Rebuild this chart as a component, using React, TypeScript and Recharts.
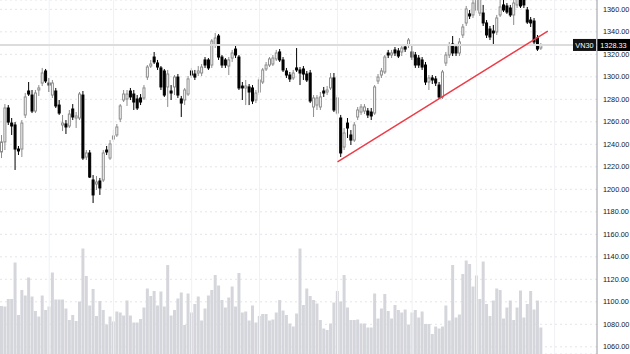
import { ComposedChart, Bar, Line, XAxis, YAxis, CartesianGrid, ReferenceLine } from 'recharts';

// VN30 daily OHLC
const opens = [1233.2,1242.1,1272.3,1258.9,1257.2,1235.8,1235.8,1266.1,1287.4,1283.8,1269.6,1288.3,1294.5,1305.2,1294.5,1283.8,1287.4,1274.9,1257.2,1258.1,1256.3,1271.4,1263.4,1263.4,1283.8,1228.7,1232.3,1208.3,1204.7,1207.4,1208.3,1234.9,1227.8,1244.7,1248.3,1262.5,1279.4,1280.3,1287.4,1284.7,1280.3,1281.2,1281.2,1299.8,1309.6,1317.6,1312.3,1307.9,1305.2,1291.0,1287.4,1291.0,1299.8,1280.3,1279.4,1284.7,1305.2,1302.5,1303.4,1303.4,1315.0,1315.0,1310.5,1328.3,1336.3,1317.6,1315.0,1309.6,1316.7,1324.7,1317.6,1291.8,1290.1,1291.0,1290.1,1279.4,1286.5,1295.4,1307.0,1310.5,1311.4,1315.9,1322.1,1315.0,1305.2,1301.6,1299.0,1307.9,1306.1,1307.0,1302.5,1303.4,1273.2,1274.9,1273.2,1287.4,1286.5,1290.1,1299.0,1267.8,1263.4,1237.6,1258.9,1248.3,1243.8,1264.3,1268.7,1269.6,1269.6,1268.7,1267.8,1296.3,1301.6,1304.3,1321.2,1319.4,1323.9,1323.0,1322.1,1326.5,1328.3,1322.1,1319.4,1316.7,1315.0,1310.5,1295.4,1299.0,1298.1,1292.7,1282.1,1312.3,1319.4,1329.2,1326.5,1321.2,1337.2,1347.9,1355.9,1355.0,1359.4,1356.7,1356.7,1347.9,1342.5,1340.7,1339.9,1355.0,1363.9,1363.0,1361.2,1355.0,1363.9,1370.1,1368.3,1359.4,1350.5,1349.6,1334.5,1325.6];
const highs = [1248.3,1275.8,1274.9,1263.4,1259.8,1238.5,1261.6,1285.6,1295.4,1288.3,1288.3,1292.7,1307.9,1307.0,1299.0,1297.2,1290.1,1279.4,1266.1,1261.6,1270.5,1275.8,1268.7,1286.5,1287.4,1234.9,1234.9,1212.7,1211.8,1210.1,1234.9,1238.5,1243.8,1252.7,1258.1,1275.8,1288.3,1288.3,1290.1,1288.3,1283.8,1284.7,1292.7,1310.5,1315.0,1322.1,1315.0,1309.6,1307.0,1306.1,1292.7,1301.6,1302.5,1283.0,1290.1,1300.7,1307.9,1306.1,1309.6,1311.4,1317.6,1316.7,1333.6,1339.0,1338.1,1319.4,1316.7,1317.6,1323.9,1327.4,1319.4,1295.4,1297.2,1293.6,1292.7,1288.3,1299.8,1307.9,1313.2,1317.6,1319.4,1323.9,1324.7,1317.6,1307.9,1304.3,1306.1,1325.6,1308.7,1309.6,1305.2,1306.1,1283.8,1283.8,1286.5,1291.0,1291.8,1303.4,1303.4,1283.8,1266.1,1254.5,1263.4,1252.7,1259.8,1273.2,1275.8,1275.8,1272.3,1272.3,1292.7,1302.5,1307.9,1319.4,1323.9,1323.9,1326.5,1325.6,1328.3,1329.2,1334.5,1328.3,1322.1,1319.4,1317.6,1313.2,1301.6,1301.6,1300.7,1295.4,1306.1,1322.1,1331.0,1336.3,1329.2,1334.5,1347.0,1363.0,1359.4,1368.3,1377.2,1375.4,1363.9,1350.5,1345.2,1346.1,1355.0,1368.3,1368.3,1365.6,1363.9,1368.3,1375.4,1373.6,1371.0,1362.1,1353.2,1352.3,1337.2,1330.1];
const lows = [1227.8,1234.9,1257.2,1248.3,1217.2,1230.5,1228.7,1263.4,1283.0,1267.8,1267.8,1283.0,1291.8,1294.5,1286.5,1281.2,1272.3,1266.1,1251.8,1249.2,1254.5,1261.6,1254.5,1261.6,1226.1,1226.1,1210.1,1187.8,1199.4,1195.0,1206.5,1230.5,1226.1,1242.1,1246.5,1259.8,1277.6,1274.1,1279.4,1270.5,1270.5,1274.9,1279.4,1297.2,1307.9,1311.4,1306.1,1288.3,1282.1,1273.2,1279.4,1283.8,1281.2,1264.3,1274.9,1283.0,1299.0,1297.2,1300.7,1300.7,1307.9,1306.1,1307.9,1325.6,1315.0,1307.9,1307.9,1301.6,1313.2,1316.7,1288.3,1279.4,1274.9,1274.9,1275.8,1276.7,1283.8,1293.6,1305.2,1308.7,1309.6,1314.1,1313.2,1304.3,1299.0,1295.4,1297.2,1304.3,1292.7,1297.2,1295.4,1276.7,1264.3,1270.5,1270.5,1282.1,1283.8,1288.3,1268.7,1266.1,1228.7,1234.9,1245.6,1239.4,1242.1,1261.6,1266.1,1266.9,1263.4,1261.6,1266.1,1293.6,1299.0,1302.5,1316.7,1316.7,1318.5,1316.7,1318.5,1322.1,1325.6,1315.0,1307.9,1307.9,1306.1,1292.7,1288.3,1293.6,1291.8,1280.3,1280.3,1309.6,1316.7,1318.5,1318.5,1318.5,1334.5,1345.2,1351.4,1352.3,1356.7,1354.1,1345.2,1334.5,1332.7,1329.2,1337.2,1353.2,1357.6,1355.9,1353.2,1346.1,1361.2,1361.2,1361.2,1347.0,1344.3,1328.3,1323.0,1323.9];
const closes = [1242.1,1272.3,1259.8,1256.3,1235.8,1234.1,1258.9,1282.1,1284.7,1269.6,1285.6,1290.1,1303.4,1296.3,1292.7,1294.5,1274.1,1267.8,1258.9,1255.4,1266.9,1264.3,1265.2,1284.7,1227.8,1232.3,1210.9,1195.0,1206.5,1201.2,1232.3,1233.2,1240.3,1247.4,1255.4,1274.1,1284.7,1284.7,1282.1,1277.6,1272.3,1277.6,1290.1,1308.7,1311.4,1313.2,1308.7,1291.0,1283.8,1302.5,1285.6,1299.8,1283.8,1276.7,1288.3,1298.1,1301.6,1299.8,1305.2,1308.7,1310.5,1307.9,1331.8,1334.5,1317.6,1310.5,1310.5,1315.0,1321.2,1319.4,1290.1,1290.1,1291.8,1286.5,1278.5,1285.6,1297.2,1306.1,1310.5,1315.9,1316.7,1321.2,1315.0,1306.1,1301.6,1298.1,1303.4,1306.1,1303.4,1302.5,1297.2,1278.5,1281.2,1281.2,1282.1,1285.6,1288.3,1299.0,1270.5,1281.2,1232.3,1250.1,1254.5,1243.8,1257.2,1270.5,1273.2,1273.2,1266.1,1265.2,1291.0,1299.8,1305.2,1317.6,1319.4,1321.2,1321.2,1318.5,1325.6,1324.7,1332.7,1317.6,1310.5,1310.5,1308.7,1295.4,1299.0,1297.2,1294.5,1282.1,1304.3,1319.4,1328.3,1321.2,1321.2,1331.0,1344.3,1360.3,1354.1,1365.6,1372.7,1373.6,1347.9,1337.2,1335.4,1339.0,1352.3,1362.1,1359.4,1357.6,1355.0,1365.6,1371.0,1363.0,1363.9,1348.7,1347.9,1331.0,1324.7,1328.33];
const volumes = [96,95,110,110,183,78,128,117,153,115,86,75,117,88,95,163,109,109,109,91,68,78,66,105,211,156,97,130,76,106,88,59,75,65,85,83,77,107,77,63,63,70,93,131,116,126,97,125,95,178,77,88,111,123,58,121,83,100,115,67,91,117,128,158,137,108,93,113,135,95,162,83,85,67,97,63,76,80,80,67,69,83,108,87,78,61,55,81,211,98,131,116,108,101,68,51,48,61,103,126,105,158,93,68,68,69,61,61,53,53,121,71,91,120,86,71,98,88,83,89,59,83,88,73,85,60,60,40,55,51,55,97,67,178,73,79,160,187,180,135,157,110,185,100,76,107,131,128,71,93,107,68,93,127,73,100,126,89,107,53];

const slots = 176; // candles plus empty space on the right
const priceTicks = [1060,1080,1100,1120,1140,1160,1180,1200,1220,1240,1260,1280,1300,1320,1340,1360];
const monthStarts = [14, 33, 56, 76, 99, 121, 140, 163];
const trendIdx = [99, 161];
const trendVals = [1224.3, 1340.7];
const lastPrice = 1328.33;

const rows = Array.from({ length: slots }, (_, i) => ({
  i,
  open: opens[i],
  high: highs[i],
  low: lows[i],
  close: closes[i],
  vol: volumes[i],
  trend: trendIdx.includes(i) ? trendVals[trendIdx.indexOf(i)] : undefined,
}));

const Candle = (props: any) => {
  const { x, y, width, height, payload } = props;
  if (payload == null || payload.open == null) return null;
  const { open, high, low, close } = payload;
  const k = height / (high - low || 1);
  const py = (v: number) => y + (high - v) * k;
  const up = close >= open;
  const cx = x + width / 2;
  const top = py(Math.max(open, close));
  const bot = py(Math.min(open, close));
  const col = up ? '#8c8c8c' : '#000000';
  return (
    <g>
      <line x1={cx} x2={cx} y1={y} y2={y + height} stroke={col} strokeWidth={1} />
      <rect x={cx - 1} y={top} width={2} height={Math.max(bot - top, 0.8)} fill={up ? '#ffffff' : '#000000'} stroke={col} strokeWidth={1} />
    </g>
  );
};

const PriceTag = (props: any) => {
  const vb = props.viewBox;
  if (!vb) return null;
  const right = vb.x + vb.width;
  const y = vb.y;
  return (
    <g fontFamily="Liberation Sans, Arial, sans-serif" fontSize={7.3}>
      <rect x={right - 24} y={y - 6} width={23} height={12} fill="#131313" />
      <text x={right - 12.5} y={y + 2.6} fill="#ffffff" textAnchor="middle">VN30</text>
      <rect x={right} y={y - 6} width={33} height={12} fill="#000000" />
      <text x={right + 16.5} y={y + 2.6} fill="#ffffff" textAnchor="middle">{lastPrice.toFixed(2)}</text>
    </g>
  );
};

export default function App() {
  return (
    <div style={{ position: 'fixed', left: 0, top: 0, width: 630, height: 354, background: '#fff' }}>
      <ComposedChart width={630} height={354} data={rows} margin={{ top: 0, right: 0, bottom: 0, left: 0 }}>
        <XAxis xAxisId="p" dataKey="i" type="category" hide />
        <XAxis xAxisId="v" dataKey="i" type="category" hide />
        <YAxis
          yAxisId="price"
          orientation="right"
          width={33}
          domain={[1053.6, 1368.3]}
          allowDataOverflow
          ticks={priceTicks}
          interval={0}
          tickFormatter={(v: number) => v.toFixed(2)}
          tickLine={false}
          tickSize={0}
          tickMargin={6}
          axisLine={{ stroke: '#9598a1' }}
          tick={{ fill: '#131722', fontSize: 7.3, fontFamily: 'Liberation Sans, Arial, sans-serif' }}
        />
        <YAxis yAxisId="vol" domain={[0, 708]} hide />
        <CartesianGrid xAxisId="p" yAxisId="price" vertical={false} stroke="#e3e5ea" strokeDasharray="2 3" />
        {monthStarts.map((m) => (
          <ReferenceLine key={m} xAxisId="p" yAxisId="price" x={m} stroke="#f0f1f4" />
        ))}
        <Bar xAxisId="v" yAxisId="vol" dataKey="vol" fill="#d5d6db" barSize={3} isAnimationActive={false} />
        <ReferenceLine xAxisId="p" yAxisId="price" y={lastPrice} stroke="#dcdcdc" strokeWidth={2} label={PriceTag} />
        <Bar
          xAxisId="p"
          yAxisId="price"
          dataKey={(d: any) => (d.high == null ? null : [d.low, d.high])}
          barSize={3}
          shape={<Candle />}
          isAnimationActive={false}
        />
        <Line
          xAxisId="p"
          yAxisId="price"
          dataKey="trend"
          stroke="#ee3b47"
          strokeWidth={1.5}
          dot={false}
          connectNulls
          isAnimationActive={false}
        />
      </ComposedChart>
    </div>
  );
}
